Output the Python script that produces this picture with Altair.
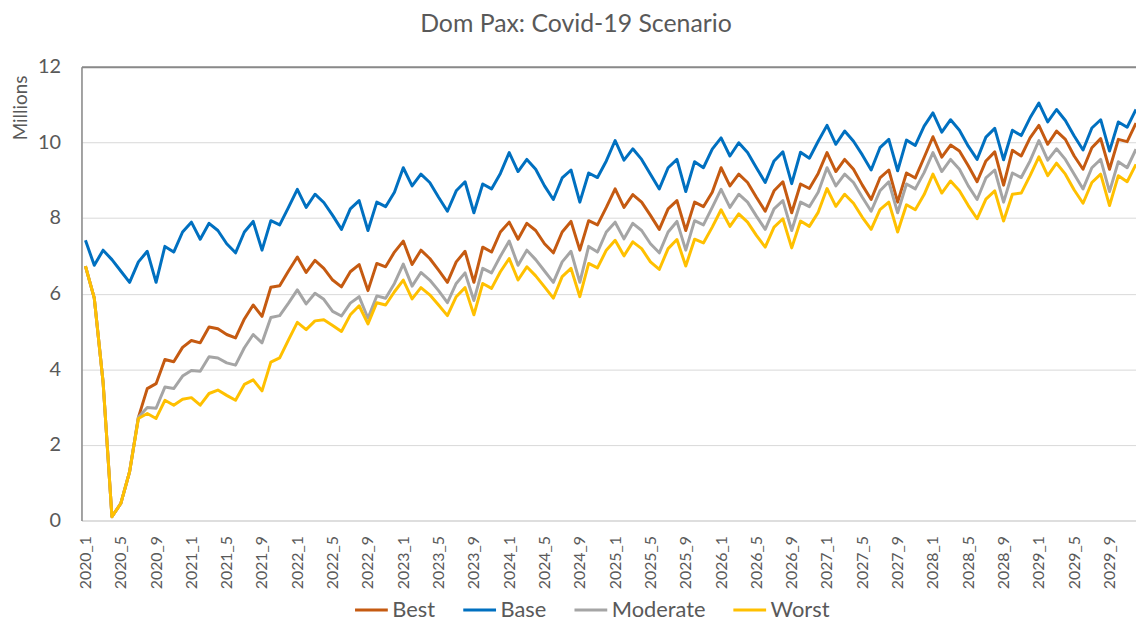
import altair as alt
import pandas as pd

# Category labels (monthly, 2020_1 ... 2029_12)
years = [2020, 2021, 2022, 2023, 2024, 2025, 2026, 2027, 2028, 2029]
month_nums = [1, 2, 3, 4, 5, 6, 7, 8, 9, 10, 11, 12]
months = [f"{y}_{m}" for y in years for m in month_nums]
tick_idx = list(range(0, 120, 4))

series_names = ["Best", "Base", "Moderate", "Worst"]
series_colors = ["#C55A11", "#0070C0", "#A5A5A5", "#FFC000"]

best = [
    6.73, 5.88, 3.65, 0.10, 0.45, 1.29, 2.73, 3.49, 3.62, 4.26, 4.20, 4.58,
    4.76, 4.70, 5.12, 5.07, 4.92, 4.83, 5.33, 5.70, 5.40, 6.17, 6.21, 6.60,
    6.97, 6.56, 6.88, 6.67, 6.36, 6.18, 6.58, 6.77, 6.08, 6.80, 6.71, 7.10,
    7.39, 6.77, 7.15, 6.93, 6.62, 6.30, 6.84, 7.12, 6.30, 7.23, 7.10, 7.63,
    7.89, 7.44, 7.86, 7.67, 7.32, 7.08, 7.63, 7.91, 7.15, 7.93, 7.82, 8.28,
    8.77, 8.28, 8.62, 8.42, 8.07, 7.70, 8.24, 8.46, 7.67, 8.42, 8.30, 8.68,
    9.33, 8.85, 9.16, 8.94, 8.55, 8.18, 8.72, 8.96, 8.14, 8.90, 8.78, 9.18,
    9.73, 9.23, 9.55, 9.29, 8.87, 8.49, 9.06, 9.27, 8.42, 9.19, 9.06, 9.60,
    10.15, 9.61, 9.93, 9.77, 9.38, 8.96, 9.51, 9.75, 8.87, 9.79, 9.64, 10.12,
    10.45, 9.95, 10.30, 10.08, 9.64, 9.29, 9.86, 10.10, 9.29, 10.08, 10.02, 10.51,
]
base = [
    7.41, 6.75, 7.15, 6.90, 6.60, 6.30, 6.84, 7.12, 6.30, 7.25, 7.10, 7.63,
    7.89, 7.44, 7.86, 7.67, 7.32, 7.08, 7.63, 7.91, 7.15, 7.93, 7.82, 8.28,
    8.76, 8.28, 8.63, 8.41, 8.07, 7.70, 8.24, 8.46, 7.67, 8.42, 8.30, 8.68,
    9.33, 8.85, 9.16, 8.94, 8.55, 8.18, 8.72, 8.96, 8.14, 8.90, 8.77, 9.18,
    9.73, 9.23, 9.55, 9.29, 8.85, 8.49, 9.06, 9.27, 8.42, 9.19, 9.07, 9.51,
    10.05, 9.53, 9.83, 9.55, 9.16, 8.77, 9.33, 9.55, 8.70, 9.49, 9.33, 9.82,
    10.12, 9.64, 9.99, 9.73, 9.33, 8.94, 9.51, 9.75, 8.91, 9.74, 9.58, 10.03,
    10.45, 9.95, 10.30, 10.03, 9.67, 9.27, 9.86, 10.08, 9.25, 10.06, 9.92, 10.43,
    10.78, 10.27, 10.60, 10.32, 9.90, 9.55, 10.14, 10.37, 9.54, 10.32, 10.18, 10.65,
    11.04, 10.54, 10.87, 10.58, 10.17, 9.80, 10.38, 10.60, 9.77, 10.54, 10.40, 10.87,
]
moderate = [
    6.73, 5.88, 3.65, 0.10, 0.45, 1.29, 2.73, 2.99, 2.97, 3.53, 3.49, 3.82,
    3.97, 3.95, 4.33, 4.30, 4.17, 4.11, 4.57, 4.92, 4.70, 5.37, 5.42, 5.75,
    6.10, 5.73, 6.01, 5.85, 5.53, 5.41, 5.75, 5.92, 5.35, 5.94, 5.88, 6.27,
    6.78, 6.20, 6.56, 6.36, 6.08, 5.76, 6.27, 6.55, 5.82, 6.67, 6.55, 6.99,
    7.39, 6.75, 7.15, 6.90, 6.60, 6.30, 6.84, 7.12, 6.30, 7.25, 7.10, 7.63,
    7.89, 7.45, 7.86, 7.67, 7.32, 7.08, 7.63, 7.91, 7.15, 7.93, 7.82, 8.28,
    8.76, 8.28, 8.63, 8.42, 8.05, 7.70, 8.24, 8.46, 7.67, 8.42, 8.30, 8.68,
    9.33, 8.85, 9.16, 8.94, 8.55, 8.18, 8.72, 8.96, 8.14, 8.90, 8.77, 9.20,
    9.73, 9.23, 9.55, 9.29, 8.85, 8.49, 9.06, 9.27, 8.42, 9.19, 9.07, 9.51,
    10.05, 9.53, 9.83, 9.55, 9.16, 8.77, 9.33, 9.55, 8.70, 9.49, 9.33, 9.82,
]
worst = [
    6.73, 5.88, 3.65, 0.10, 0.45, 1.29, 2.70, 2.83, 2.70, 3.18, 3.05, 3.21,
    3.25, 3.05, 3.36, 3.45, 3.31, 3.18, 3.60, 3.72, 3.43, 4.19, 4.30, 4.78,
    5.24, 5.05, 5.28, 5.31, 5.16, 5.00, 5.44, 5.68, 5.20, 5.76, 5.70, 6.05,
    6.36, 5.86, 6.16, 5.97, 5.70, 5.42, 5.92, 6.16, 5.44, 6.27, 6.14, 6.58,
    6.93, 6.36, 6.71, 6.47, 6.18, 5.88, 6.45, 6.67, 5.92, 6.80, 6.68, 7.15,
    7.41, 7.00, 7.37, 7.19, 6.84, 6.64, 7.19, 7.43, 6.73, 7.44, 7.34, 7.76,
    8.22, 7.78, 8.11, 7.89, 7.54, 7.23, 7.76, 7.98, 7.21, 7.92, 7.78, 8.15,
    8.78, 8.31, 8.63, 8.39, 8.02, 7.70, 8.22, 8.42, 7.63, 8.35, 8.22, 8.62,
    9.16, 8.66, 8.98, 8.72, 8.33, 7.98, 8.50, 8.72, 7.92, 8.63, 8.66, 9.12,
    9.62, 9.12, 9.45, 9.16, 8.74, 8.39, 8.94, 9.16, 8.33, 9.12, 8.96, 9.42,
]

y_ticks = [0, 2, 4, 6, 8, 10, 12]

FONT = "Lato"
TEXT = "#595959"

rows = []
for name, vals in zip(series_names, [best, base, moderate, worst]):
    for i, v in enumerate(vals):
        rows.append({"i": i, "month": months[i], "series": name, "value": v})
df = pd.DataFrame(rows)

label_expr = "[" + ",".join(f"'{m}'" for m in months) + "][datum.value]"

x_enc = alt.X(
    "i:Q",
    scale=alt.Scale(domain=[-0.45, 119], nice=False, zero=False),
    axis=alt.Axis(
        values=tick_idx, labelExpr=label_expr, labelAngle=-90, ticks=False,
        grid=False, domainColor="#D9D9D9", domainWidth=1, labelFontSize=16,
        labelColor=TEXT, labelFont=FONT, labelPadding=15, title=None,
        labelOverlap=False,
    ),
)
y_enc = alt.Y(
    "value:Q",
    scale=alt.Scale(domain=[0, 12], nice=False),
    axis=alt.Axis(
        values=y_ticks, title="Millions", titleFont=FONT, titleFontSize=19,
        titleFontWeight="normal", titleColor=TEXT, titleAngle=270,
        titleX=-55, titleY=41, titleAlign="center", titleBaseline="alphabetic",
        labelFontSize=20, labelColor=TEXT, labelFont=FONT, labelPadding=21,
        ticks=False, domainColor="#898989", domainWidth=1.5,
        gridColor={"condition": {"test": "datum.value >= 12", "value": "#898989"}, "value": "#D9D9D9"},
        gridWidth={"condition": {"test": "datum.value >= 12", "value": 2}, "value": 1},
    ),
)
color_enc = alt.Color(
    "series:N",
    scale=alt.Scale(domain=series_names, range=series_colors),
    legend=alt.Legend(
        title=None, orient="none", legendX=274, legendY=529, direction="horizontal",
        symbolType="stroke", symbolSize=1089, symbolStrokeWidth=3,
        labelFontSize=22, labelColor=TEXT, labelFont=FONT, columnPadding=21,
        labelOffset=3, padding=0,
    ),
)

layers = []
for name in series_names:
    layers.append(
        alt.Chart(df[df["series"] == name])
        .mark_line(strokeWidth=3, strokeJoin="round", clip=True)
        .encode(x=x_enc, y=y_enc, color=color_enc)
    )

chart = (
    alt.layer(*layers)
    .properties(
        width=1062,
        height=457,
        autosize="none",
        padding={"left": 74, "top": 57, "right": 0, "bottom": 102},
        title=alt.TitleParams(
            "Dom Pax: Covid-19 Scenario", font=FONT, fontSize=25,
            fontWeight="normal", color=TEXT, anchor="middle", dx=-33, offset=20,
        ),
    )
    .configure_view(stroke=None)
    .configure(background="white")
)

chart.save("out.html", embed_options={"renderer": "svg", "actions": False})
